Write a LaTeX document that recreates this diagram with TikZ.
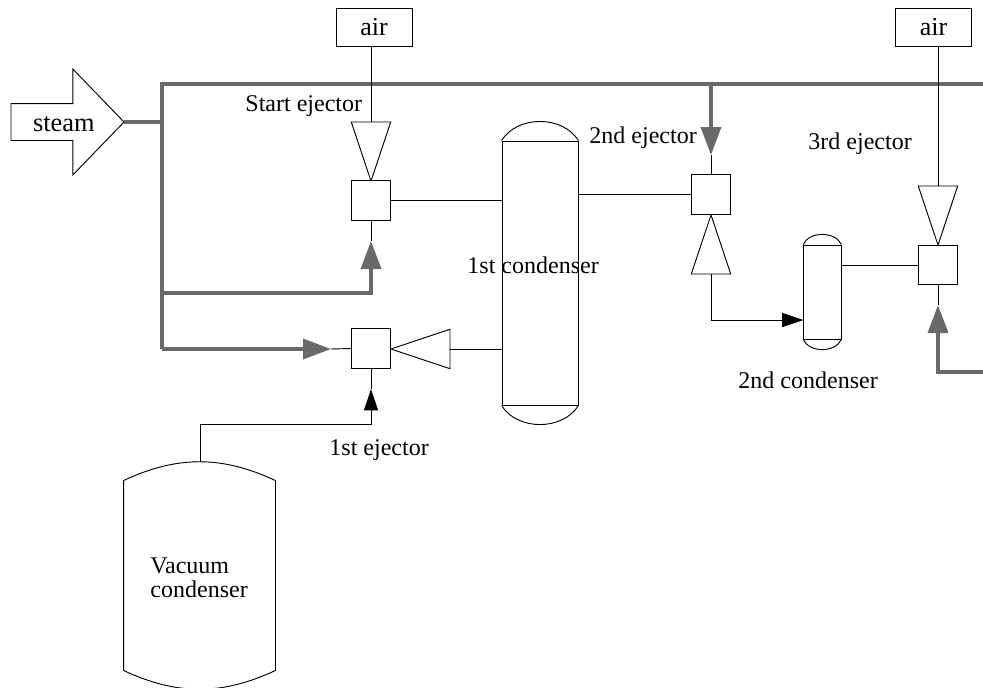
\documentclass[tikz,border=0pt]{standalone}
\usepackage{fontspec}
\setmainfont{Liberation Serif}
\usetikzlibrary{arrows.meta,calc,shapes.geometric,shapes.arrows}
\definecolor{plant@steam}{RGB}{105,105,105}
\tikzset{
  plant/.style={
    x=0.75pt, y=-0.75pt,
    line width=0.7pt,
    every node/.style={font=\fontsize{18}{18}\selectfont}
  },
  mixbox/.style={                  % ejector mixing chamber
    draw, inner sep=0pt, fill=white,
    minimum width=29.6pt, minimum height=29.6pt
  },
  airbox/.style={
    draw, inner sep=0pt,
    font=\fontsize{19.5}{19.5}\selectfont,
    minimum width=57pt, minimum height=28.5pt
  },
  nozzle/.style={                  % ejector cone, apex on the flow side
    draw, isosceles triangle, isosceles triangle stretches,
    inner sep=0pt, outer sep=0pt,
    minimum width=29.6pt, minimum height=44.25pt
  },
  vessel/.style={draw, inner sep=0pt},
  tag/.style={anchor=base west, inner sep=0pt, align=left},
  steampipe/.style={line width=2.6pt, draw=plant@steam},
  steamarrow/.style={steampipe, -{Triangle[length=21pt,width=15pt]}},
  vacarrow/.style={-{Triangle[length=16pt,width=10.5pt]}}
}
\begin{document}
\begin{tikzpicture}[plant]
\useasboundingbox (0,0) rectangle (983,687);

% Steam inlet
\node[
  draw, single arrow,
  single arrow head extend=25.9pt,
  single arrow tip angle=92,
  inner sep=0pt, outer sep=0pt,
  text height=20.25pt, text depth=6.75pt,
  font=\fontsize{19.8}{19.8}\selectfont,
  minimum width=78.75pt, minimum height=84.75pt,
  anchor=tip
] (steam) at (124,122) {\hspace*{8pt}steam};

% Air supplies
\node[airbox] (airA) at (374,27) {air};
\node[airbox] (airB) at (933.5,27) {air};

% Ejector cones
\node[nozzle, shape border rotate=-90, anchor=apex] (startcone) at (371,181) {};
\node[nozzle, shape border rotate=180, anchor=apex] (firstcone) at (391,349) {};
\node[nozzle, shape border rotate=90, anchor=apex] (secondcone) at (711,215) {};
\node[nozzle, shape border rotate=-90, anchor=apex] (thirdcone) at (938,245) {};

% Mixing chambers
\node[mixbox] (startbox) at (371,200.5) {};
\node[mixbox] (firstbox) at (371,348.5) {};
\node[mixbox] (secondbox) at (711,194.5) {};
\node[mixbox] (thirdbox) at (938,265) {};

% 1st condenser
\node[vessel, minimum width=57pt, minimum height=198pt] (condA) at (540,273) {};
\draw (condA.north west) to[bend left=58] (condA.north east);
\draw (condA.south west) to[bend right=58] (condA.south east);

% 2nd condenser
\node[vessel, minimum width=28pt, minimum height=70.5pt] (condB) at (822.3,292) {};
\draw (condB.north west) to[bend left=65] (condB.north east);
\draw (condB.south west) to[bend right=65] (condB.south east);

% Vacuum condenser
\node[inner sep=0pt, minimum width=113.25pt, minimum height=141.75pt] (vac) at (199.5,575.5) {};
\draw (vac.north west) to[bend left=25] (vac.north east)
  -- (vac.south east) to[bend left=25] (vac.south west) -- cycle;

% Steam header and its branches
\coordinate (joint) at (162,122);
\coordinate (headtop) at (162,84);
\coordinate (headend) at (983,84);
\coordinate (branchA) at (162,293);
\coordinate (headlow) at (162,349);
\coordinate (starttip) at (371,241);
\coordinate (firsttip) at (331,349);
\coordinate (secondtip) at (711,155);
\coordinate (secondtap) at (711,84);
\coordinate (thirdtip) at (938,305);
\coordinate (thirdend) at (983,372);
\draw[steampipe] (steam.tip) -- (joint);
\draw[steampipe] (headend) -- (headtop) -- (headlow);
\draw[steamarrow] (branchA) -| (starttip);
\draw[steamarrow] (headlow) -- (firsttip);
\draw[steamarrow] (secondtap) -- (secondtip);
\draw[steamarrow] (thirdend) -| (thirdtip);

% Thin lines out of the arrow tips
\draw (starttip) -- (startbox.south);
\draw (firsttip) -- (firstbox.west);
\draw (secondtip) -- (secondbox.north);
\draw (thirdtip) -- (thirdbox.south);

% Air lines
\draw (airA.south -| startcone.apex) -- (startcone.apex |- startcone.lower side);
\draw (airB.south -| thirdcone.apex) -- (thirdcone.apex |- thirdcone.lower side);

% Vapour lines
\draw (startbox.east) -- (startbox.east -| condA.west);
\draw (firstcone.lower side) -- (firstcone.lower side -| condA.west);
\draw (secondbox.west) -- (secondbox.west -| condA.east);
\draw (thirdbox.west) -- (thirdbox.west -| condB.east);

% 2nd cone to 2nd condenser
\coordinate (condBin) at (803.5,320);
\draw[vacarrow] (secondcone.lower side) |- (condBin);

% Vacuum condenser to 1st ejector
\coordinate (vacout) at (200,462);
\coordinate (vacbend) at (200,424);
\coordinate (vactip) at (371,389);
\draw[vacarrow] (vacout) -- (vacbend) -| (vactip);
\draw (vactip) -- (firstbox.south);

% Labels
\node[tag] (startlabel) at (245,111) {Start ejector};
\node[tag] (firstlabel) at (329,455) {1st ejector};
\node[tag] (secondlabel) at (589,143) {2nd ejector};
\node[tag] (thirdlabel) at (808,149) {3rd ejector};
\node[tag] (condAlabel) at (467,273) {1st condenser};
\node[tag] (condBlabel) at (738,388) {2nd condenser};
\node[tag] (vaclabelA) at (150,573) {Vacuum};
\node[tag] (vaclabelB) at (150,597) {condenser};

\end{tikzpicture}
\end{document}
